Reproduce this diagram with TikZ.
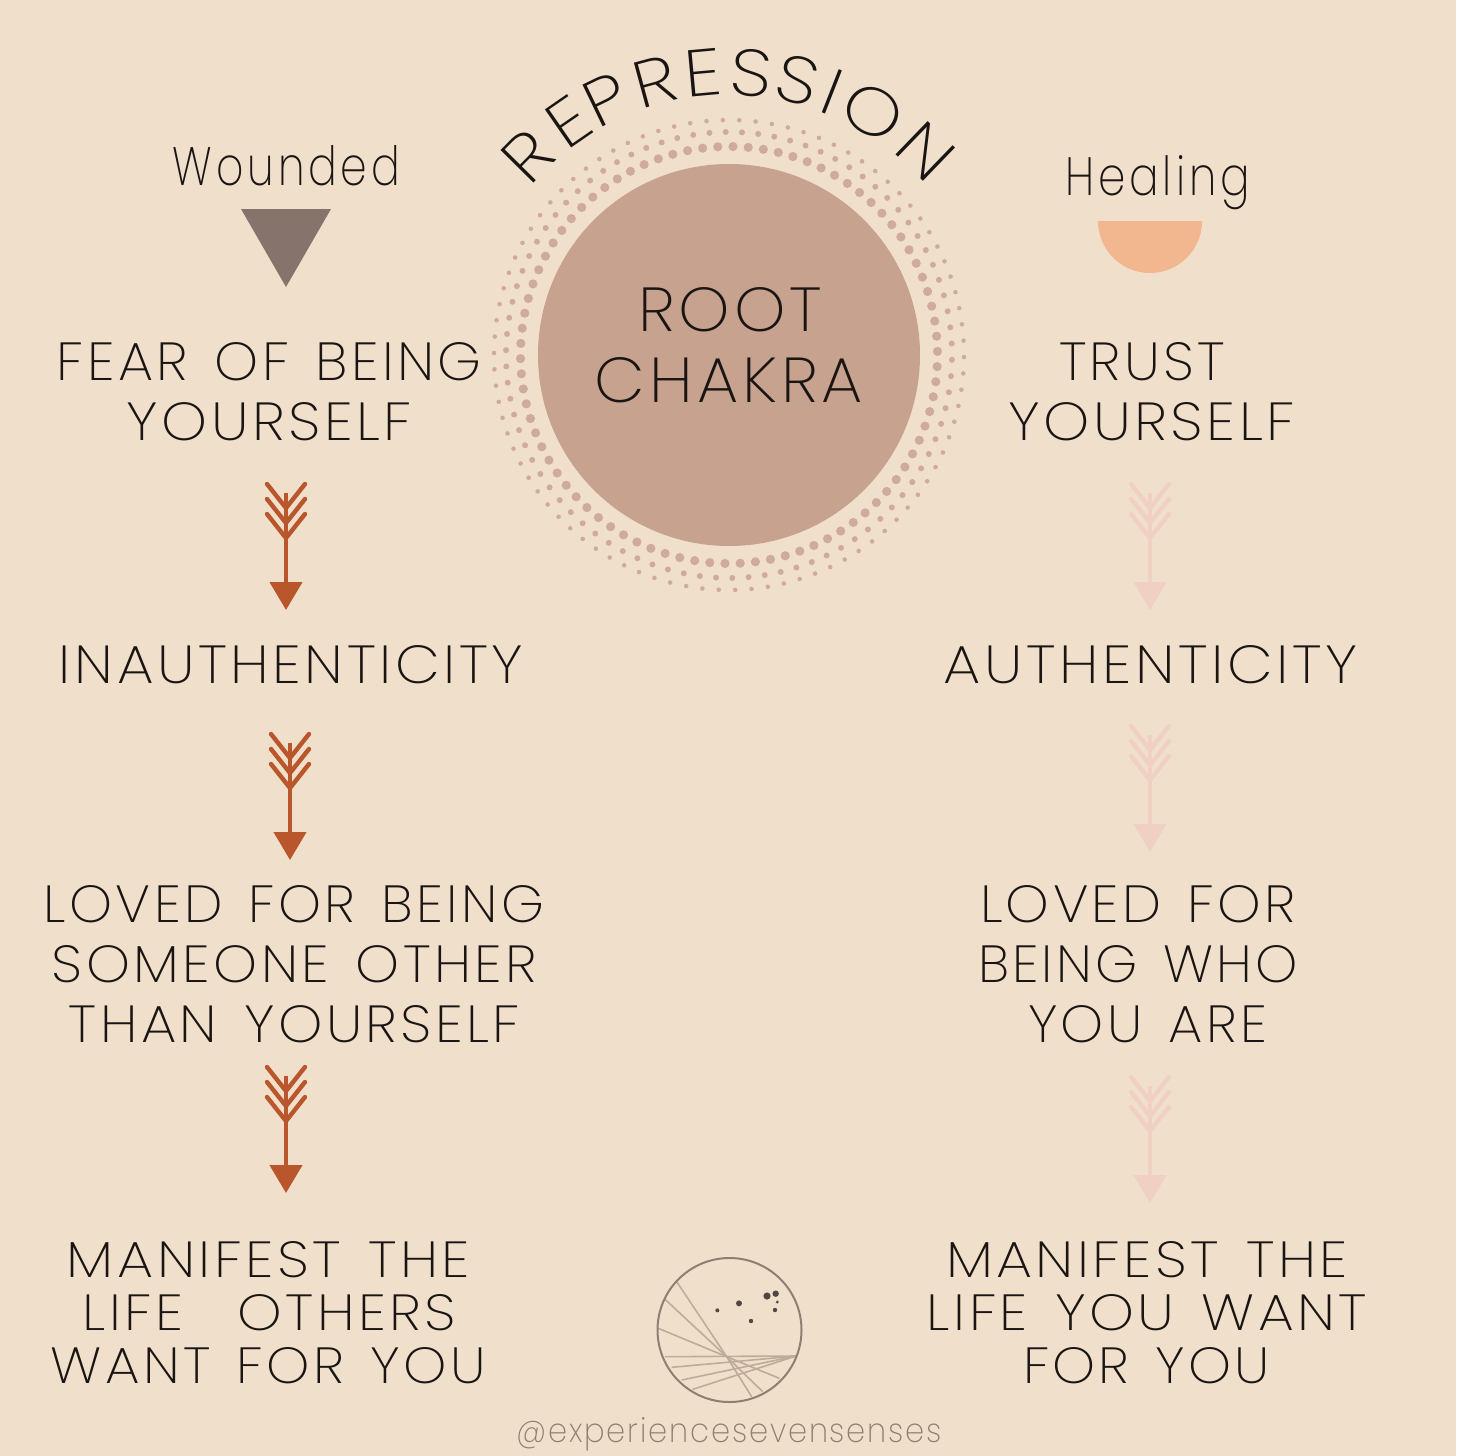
\documentclass[tikz,border=0pt]{standalone}
\usepackage{fontspec}
\usepackage{graphicx}
\setmainfont{Poppins}[UprightFont={* ExtraLight},LetterSpace=6,WordSpace=1.4]
\usetikzlibrary{arrows.meta}
\definecolor{bgc}{HTML}{F0E0CB}
\definecolor{discc}{HTML}{C6A28F}
\definecolor{dotc}{HTML}{CFAB9B}
\definecolor{inkc}{HTML}{1A1513}
\definecolor{warmc}{HTML}{B9562C}
\definecolor{palec}{HTML}{EFD0C2}
\definecolor{triac}{HTML}{86736B}
\definecolor{halfc}{HTML}{F2B78F}
\definecolor{ringc}{HTML}{8F7E72}
\definecolor{rayc}{HTML}{BFAB9A}
\definecolor{handlec}{HTML}{8F7F73}
\tikzset{
  textline/.style={inner sep=0pt,outer sep=0pt,anchor=base,text=inkc},
  arcletter/.style={inner sep=0pt,outer sep=0pt,anchor=base,text=inkc,font=\fontsize{33}{33}\selectfont},
  feather/.style={line width=2.2pt,line cap=round},
  shaft/.style={line width=2.2pt,-{Triangle[width=16pt,length=14pt]}},
}
% name, left x, right x, baseline y, cap height (all in reference pixels), text
\newcommand\tline[6]{%
  \pgfmathsetmacro\cxx{(#2+#3)/2}%
  \pgfmathsetlengthmacro\wdd{(#3-#2)*0.5pt}%
  \pgfmathsetlengthmacro\htt{#5*0.5pt}%
  \node[textline] (#1) at (\cxx,#4) {\resizebox{\wdd}{\htt}{\fontsize{27}{27}\selectfont #6}};}
% name, x, top y, colour
\newcommand\featherarrow[4]{%
  \coordinate (#1-t) at (#2,#3+10);
  \coordinate (#1-b) at (#2,#3+127);
  \draw[shaft,draw=#4,fill=#4,#4] (#1-t) -- (#1-b);
  \foreach \dy in {0,15,30}{
    \draw[feather,#4] (#2-19,#3+1+\dy) -- (#2,#3+25+\dy) -- (#2+19,#3+1+\dy);
  }}
\begin{document}
\begin{tikzpicture}[x=0.5pt,y=-0.5pt]
\useasboundingbox (0,0) rectangle (1456,1456);
\fill[bgc] (0,0) rectangle (1456,1456);
% dotted halo
\foreach \i in {0,...,85}{
  \pgfmathsetmacro\ang{\i*4.18605}
  \fill[dotc] ({729+208.5*cos(\ang-88.9)},{355+208.5*sin(\ang-88.9)}) circle[radius=2.3pt];
  \fill[dotc] ({729+223*cos(\ang-90.85)},{355+223*sin(\ang-90.85)}) circle[radius=1.5pt];
}
\foreach \i in {0,...,89}{
  \pgfmathsetmacro\ang{\i*4}
  \fill[dotc] ({729+235*cos(\ang-91.5)},{355+235*sin(\ang-91.5)}) circle[radius=1.15pt];
}
\node[circle,fill=discc,inner sep=0pt,minimum size=191pt] (disc) at (729,355) {};
% curved title
\foreach \ch/\th [count=\n] in {R/-45.3,E/-34.6,P/-25.8,R/-15.2,E/-5.2,S/4.6,S/14.1,I/21.4,O/30.7,N/44}{
  \node[arcletter,rotate=-\th] (arc\n) at ({729+260*sin(\th)},{355-260*cos(\th)}) {\scalebox{1.15}[1]{\ch}};
}
\tline{root}{638}{822}{331}{44}{ROOT}
\tline{chakra}{595}{863}{402}{45}{CHAKRA}
% headings
\tline{wounded}{173}{400}{185}{40}{\addfontfeature{LetterSpace=9}Wounded}
\tline{healing}{1065}{1250}{195}{40}{\addfontfeature{LetterSpace=9}Healing}
\fill[triac] (241,209) -- (331,209) -- (286,287) -- cycle;
\fill[halfc] (1098,221) arc[start angle=180,end angle=360,radius=26pt] -- cycle;
% left column
\tline{la1}{57}{482}{380}{38}{FEAR OF BEING}
\tline{la2}{127}{412}{440}{38}{YOURSELF}
\tline{lb}{59}{523}{683}{38}{INAUTHENTICITY}
\tline{lc1}{44}{544}{922}{37}{LOVED FOR BEING}
\tline{lc2}{52}{537}{982}{37}{SOMEONE OTHER}
\tline{lc3}{69}{520}{1042}{37}{THAN YOURSELF}
\tline{ld1}{67}{470}{1277}{36}{MANIFEST THE}
\tline{ld2}{83}{456}{1330}{36}{LIFE\ \ OTHERS}
\tline{ld3}{51}{486}{1383}{36}{WANT FOR YOU}
% right column
\tline{ra1}{1059}{1225}{380}{38}{TRUST}
\tline{ra2}{1008}{1295}{440}{38}{YOURSELF}
\tline{rb}{944}{1358}{683}{38}{AUTHENTICITY}
\tline{rc1}{980}{1296}{922}{37}{LOVED FOR}
\tline{rc2}{978}{1298}{982}{37}{BEING WHO}
\tline{rc3}{1028}{1267}{1042}{37}{YOU ARE}
\tline{rd1}{946}{1348}{1277}{36}{MANIFEST THE}
\tline{rd2}{927}{1367}{1330}{36}{LIFE YOU WANT}
\tline{rd3}{1023}{1270}{1383}{36}{FOR YOU}
% arrows
\featherarrow{al1}{286}{483}{warmc}
\featherarrow{al2}{290}{733}{warmc}
\featherarrow{al3}{286}{1066}{warmc}
\featherarrow{ar1}{1150}{483}{palec}
\featherarrow{ar2}{1150}{725}{palec}
\featherarrow{ar3}{1150}{1076}{palec}
% logo
\begin{scope}[shift={(640,1240)},x=0.16667pt,y=-0.16667pt]
  \coordinate (hub) at (260,350);
  \coordinate (east) at (468,348);
  \foreach \ax/\ay/\bx/\by in {110/125/335/470,75/178/368/455,55/265/418/415}{
    \draw[rayc,line width=0.8pt] (\ax,\ay) -- (hub) -- (\bx,\by);
  }
  \foreach \ax/\ay in {75/350,95/382,125/420,158/448}{
    \draw[rayc,line width=0.8pt] (\ax,\ay) -- (east);
  }
  \node[circle,draw=ringc,line width=1pt,inner sep=0pt,minimum size=72pt] (logo) at (268.5,270) {};
  \foreach \dx/\dy/\dr in {232/211/1,297/190/1.5,381/168/1.8,407/161/1.6,412/186/0.8,405/210/1.1,333/243/1.1}{
    \fill[inkc!75!bgc] (\dx,\dy) circle[radius=\dr pt];
  }
\end{scope}
\tline{handle}{516}{942}{1442}{25}{\color{handlec}@experiencesevensenses}
\end{tikzpicture}
\end{document}
